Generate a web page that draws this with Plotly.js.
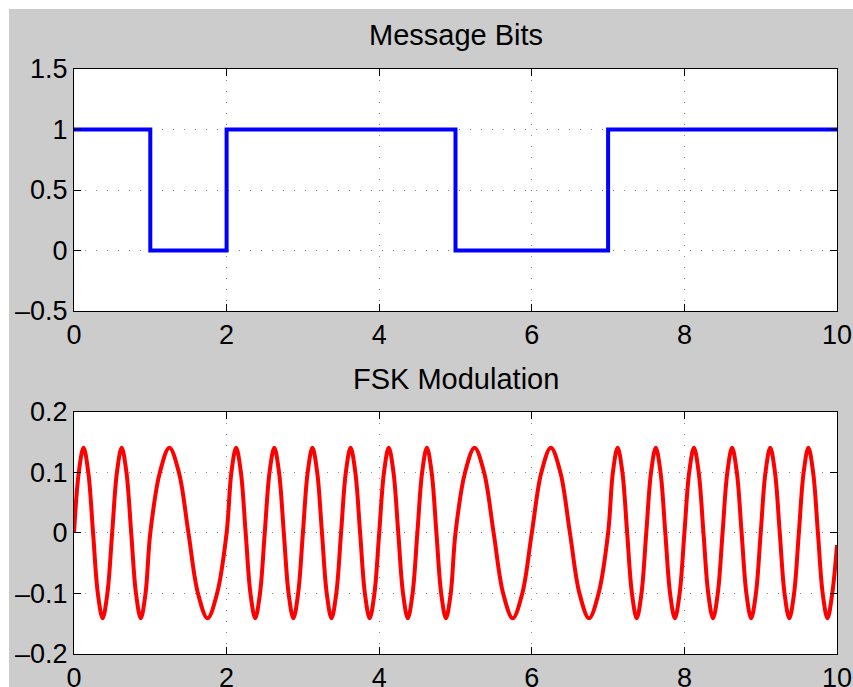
<!DOCTYPE html>
<html>
<head>
<meta charset="utf-8">
<script src="https://cdn.plot.ly/plotly-3.0.1.min.js"></script>
<style>
  html, body { margin: 0; padding: 0; background: #ffffff; }
  #chart { position: absolute; left: 9px; top: 9px; width: 844px; height: 678px; }
</style>
</head>
<body>
<div id="chart"></div>
<script>
// Message bits (one per unit interval) and their edges
var bitEdges = [0, 1, 2, 3, 4, 5, 6, 7, 8, 9, 10];
var bits = [1, 0, 1, 1, 1, 0, 0, 1, 1, 1];

// FSK waveform key points (crossings, extremes and half-way points)
var fskT = [
  0, 0.0625, 0.125, 0.1875, 0.25, 0.3125, 0.375, 0.4375, 0.5, 0.5625, 0.625, 0.6875, 0.75, 0.8125, 0.875, 0.9375, 1,
  1.125, 1.25, 1.375, 1.5, 1.625, 1.75, 1.875, 2,
  2.0625, 2.125, 2.1875, 2.25, 2.3125, 2.375, 2.4375, 2.5, 2.5625, 2.625, 2.6875, 2.75, 2.8125, 2.875, 2.9375, 3,
  3.0625, 3.125, 3.1875, 3.25, 3.3125, 3.375, 3.4375, 3.5, 3.5625, 3.625, 3.6875, 3.75, 3.8125, 3.875, 3.9375, 4,
  4.0625, 4.125, 4.1875, 4.25, 4.3125, 4.375, 4.4375, 4.5, 4.5625, 4.625, 4.6875, 4.75, 4.8125, 4.875, 4.9375, 5,
  5.125, 5.25, 5.375, 5.5, 5.625, 5.75, 5.875, 6,
  6.125, 6.25, 6.375, 6.5, 6.625, 6.75, 6.875, 7,
  7.0625, 7.125, 7.1875, 7.25, 7.3125, 7.375, 7.4375, 7.5, 7.5625, 7.625, 7.6875, 7.75, 7.8125, 7.875, 7.9375, 8,
  8.0625, 8.125, 8.1875, 8.25, 8.3125, 8.375, 8.4375, 8.5, 8.5625, 8.625, 8.6875, 8.75, 8.8125, 8.875, 8.9375, 9,
  9.0625, 9.125, 9.1875, 9.25, 9.3125, 9.375, 9.4375, 9.5, 9.5625, 9.625, 9.6875, 9.75, 9.8125, 9.875, 9.9375, 10
];
var fskV = [
  0, 0.1, 0.141, 0.1, 0, -0.1, -0.141, -0.1, 0, 0.1, 0.141, 0.1, 0, -0.1, -0.141, -0.1, 0,
  0.1, 0.141, 0.1, 0, -0.1, -0.141, -0.1, 0,
  0.1, 0.141, 0.1, 0, -0.1, -0.141, -0.1, 0, 0.1, 0.141, 0.1, 0, -0.1, -0.141, -0.1, 0,
  0.1, 0.141, 0.1, 0, -0.1, -0.141, -0.1, 0, 0.1, 0.141, 0.1, 0, -0.1, -0.141, -0.1, 0,
  0.1, 0.141, 0.1, 0, -0.1, -0.141, -0.1, 0, 0.1, 0.141, 0.1, 0, -0.1, -0.141, -0.1, 0,
  0.1, 0.141, 0.1, 0, -0.1, -0.141, -0.1, 0,
  0.1, 0.141, 0.1, 0, -0.1, -0.141, -0.1, 0,
  0.1, 0.141, 0.1, 0, -0.1, -0.141, -0.1, 0, 0.1, 0.141, 0.1, 0, -0.1, -0.141, -0.1, 0,
  0.1, 0.141, 0.1, 0, -0.1, -0.141, -0.1, 0, 0.1, 0.141, 0.1, 0, -0.1, -0.141, -0.1, 0,
  0.1, 0.141, 0.1, 0, -0.1, -0.141, -0.1, 0, 0.1, 0.141, 0.1, 0, -0.1, -0.141, -0.1, -0.02
];

// Tick labels
var xTickVals = [0, 2, 4, 6, 8, 10];
var xTickText = ['0', '2', '4', '6', '8', '10'];
var y1TickVals = [-0.5, 0, 0.5, 1, 1.5];
var y1TickText = ['\u20130.5', '0', '0.5', '1', '1.5'];
var y2TickVals = [-0.2, -0.1, 0, 0.1, 0.2];
var y2TickText = ['\u20130.2', '\u20130.1', '0', '0.1', '0.2'];
var titles = ['Message Bits', 'FSK Modulation'];

var bitsY = bits.concat([bits[bits.length - 1]]);

var traces = [
  {
    x: bitEdges, y: bitsY, xaxis: 'x', yaxis: 'y',
    mode: 'lines', line: { color: '#0000ff', width: 4, shape: 'hv' },
    hoverinfo: 'skip'
  },
  {
    x: fskT, y: fskV, xaxis: 'x2', yaxis: 'y2',
    mode: 'lines', line: { color: '#ff0000', width: 4, shape: 'spline', smoothing: 1 },
    hoverinfo: 'skip'
  }
];

var family = '"Liberation Sans", Arial, Helvetica, sans-serif';
var font = { family: family, size: 27, color: '#000000' };
var titleFont = { family: family, size: 29, color: '#000000' };

function xAx(anchor) {
  return {
    anchor: anchor, domain: [0, 1], range: [0, 10],
    tickvals: xTickVals, ticktext: xTickText,
    ticks: 'inside', ticklen: 7, tickwidth: 1, tickcolor: '#000000',
    showline: true, linecolor: '#000000', linewidth: 1, mirror: 'ticks',
    showgrid: true, gridcolor: '#8a8a8a', gridwidth: 1, griddash: '1px,10px',
    zeroline: false, tickfont: font, fixedrange: true
  };
}
function yAx(anchor, domain, range, vals, text) {
  return {
    anchor: anchor, domain: domain, range: range,
    tickvals: vals, ticktext: text,
    ticks: 'inside', ticklen: 7, tickwidth: 1, tickcolor: '#000000',
    showline: true, linecolor: '#000000', linewidth: 1, mirror: 'ticks',
    showgrid: true, gridcolor: '#8a8a8a', gridwidth: 1, griddash: '1px,10px',
    zeroline: false, tickfont: font, fixedrange: true
  };
}

var layout = {
  width: 844, height: 678,
  margin: { l: 65, r: 16, t: 60, b: 33, pad: 0 },
  paper_bgcolor: '#cccccc', plot_bgcolor: '#ffffff',
  showlegend: false,
  font: font,
  xaxis: xAx('y'),
  yaxis: yAx('x', [0.5863, 1], [-0.5, 1.5], y1TickVals, y1TickText),
  xaxis2: xAx('y2'),
  yaxis2: yAx('x2', [0, 0.4137], [-0.2, 0.2], y2TickVals, y2TickText),
  annotations: [
    { text: titles[0], xref: 'paper', yref: 'paper', x: 0.5, y: 1.058, xanchor: 'center', yanchor: 'middle', showarrow: false, font: titleFont },
    { text: titles[1], xref: 'paper', yref: 'paper', x: 0.5, y: 0.470, xanchor: 'center', yanchor: 'middle', showarrow: false, font: titleFont }
  ]
};

Plotly.newPlot('chart', traces, layout, { displayModeBar: false, staticPlot: true });
</script>
</body>
</html>
